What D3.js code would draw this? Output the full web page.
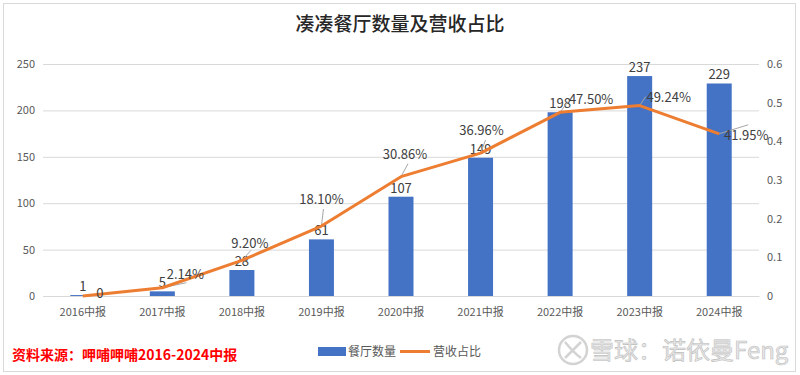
<!DOCTYPE html>
<html><head><meta charset="utf-8">
<script src="https://cdn.jsdelivr.net/npm/d3@7"></script>
<style>body{margin:0;background:#fff}svg{display:block}</style>
</head><body>
<svg id="c" width="800" height="375"></svg>
<script>
const categories = ["2016中报","2017中报","2018中报","2019中报","2020中报","2021中报","2022中报","2023中报","2024中报"];
const restaurantCounts = [1,5,28,61,107,149,198,237,229];
const revenueShare = [0,0.0214,0.092,0.181,0.3086,0.3696,0.475,0.4924,0.4195];
const leftTicks = [0,50,100,150,200,250];
const rightTicks = [0,0.1,0.2,0.3,0.4,0.5,0.6];
// label layout offsets (dx, dy of label center relative to point) and leader endpoints
const lineLabelOffsets = [[17,-3],[23,-14],[8,-17],[0,-27],[4,-23],[1,-23],[31,-13],[29,-9],[27,1]];
const leaderEnds = [null,[24,-5],[9,-10],[2,-17],[7,-13],[5,-13],[8,-11],[6,-9],[29,-9]];

const svg = d3.select("#c");
const font = "'Noto Sans CJK SC', 'Noto Sans', sans-serif";
svg.append("rect").attr("x",3.5).attr("y",3.5).attr("width",792).attr("height",368)
  .attr("fill","#fff").attr("stroke","#d9d9d9");

const xb = d3.scaleBand().domain(categories).range([43,759]);
const xm = d => xb(d) + xb.bandwidth()/2;
const yL = d3.scaleLinear().domain([0,250]).range([296,64]);
const yR = d3.scaleLinear().domain([0,0.6]).range([296,64]);

// gridlines
svg.append("g").selectAll("line").data(leftTicks).join("line")
  .attr("x1",43).attr("x2",759).attr("y1",d=>yL(d)+0.5).attr("y2",d=>yL(d)+0.5)
  .attr("stroke","#d9d9d9").attr("stroke-width",1);

// left axis
const la = svg.append("g").attr("transform","translate(43,0)")
  .call(d3.axisLeft(yL).tickValues(leftTicks).tickSize(0).tickPadding(8));
la.select(".domain").remove();
la.selectAll("text").attr("font-family",font).attr("font-size",11).attr("fill","#595959");

// right axis
const ra = svg.append("g").attr("transform","translate(759,0)")
  .call(d3.axisRight(yR).tickValues(rightTicks).tickSize(0).tickPadding(8).tickFormat(d3.format("")));
ra.select(".domain").remove();
ra.selectAll("text").attr("font-family",font).attr("font-size",11).attr("fill","#595959");

// x axis
const xa = svg.append("g").attr("transform","translate(0,296)")
  .call(d3.axisBottom(xb).tickSize(0).tickPadding(12));
xa.select(".domain").attr("stroke","#d9d9d9");
xa.selectAll("text").attr("font-family",font).attr("font-size",11).attr("fill","#595959");

// bars
const bw = 25;
svg.append("g").selectAll("rect").data(categories).join("rect")
  .attr("x",d=>xm(d)-bw/2).attr("width",bw)
  .attr("y",(d,i)=>yL(restaurantCounts[i]))
  .attr("height",(d,i)=>296-yL(restaurantCounts[i]))
  .attr("fill","#4472C4");

// bar labels
svg.append("g").selectAll("text").data(categories).join("text")
  .attr("x",d=>xm(d)).attr("y",(d,i)=>yL(restaurantCounts[i])-4)
  .attr("text-anchor","middle").attr("font-family",font).attr("font-size",13).attr("fill","#404040")
  .text((d,i)=>restaurantCounts[i]);

// leader lines
svg.append("g").selectAll("line").data(categories.filter((d,i)=>leaderEnds[i])).join("line")
  .each(function(d){
    const i = categories.indexOf(d);
    const px = xm(d), py = yR(revenueShare[i]);
    d3.select(this).attr("x1",px).attr("y1",py).attr("x2",px+leaderEnds[i][0]).attr("y2",py+leaderEnds[i][1]);
  })
  .attr("stroke","#a6a6a6").attr("stroke-width",1);

// line
const line = d3.line().x((d,i)=>xm(categories[i])).y(d=>yR(d));
svg.append("path").datum(revenueShare).attr("d",line)
  .attr("fill","none").attr("stroke","#ED7D31").attr("stroke-width",3).attr("stroke-linejoin","round");

// line labels
const fmt = v => v===0 ? "0" : (v*100).toFixed(2)+"%";
svg.append("g").selectAll("text").data(revenueShare).join("text")
  .attr("x",(d,i)=>xm(categories[i])+lineLabelOffsets[i][0])
  .attr("y",(d,i)=>yR(d)+lineLabelOffsets[i][1]+5)
  .attr("text-anchor","middle").attr("font-family",font).attr("font-size",13).attr("fill","#404040")
  .text(fmt);

// title
svg.append("text").attr("x",400).attr("y",31).attr("text-anchor","middle")
  .attr("font-family","'Noto Sans CJK SC', serif").attr("font-weight",500).attr("font-size",19).attr("fill","#262626")
  .text("凑凑餐厅数量及营收占比");

// source
svg.append("text").attr("x",12).attr("y",360).attr("font-family",font).attr("font-weight","bold")
  .attr("font-size",14).attr("fill","#ff0000").text("资料来源：呷哺呷哺2016-2024中报");

// legend
const lg = svg.append("g");
lg.append("rect").attr("x",318).attr("y",347).attr("width",28).attr("height",9).attr("fill","#4472C4");
lg.append("text").attr("x",348).attr("y",356).attr("font-family",font).attr("font-size",12).attr("fill","#595959").text("餐厅数量");
lg.append("line").attr("x1",400).attr("x2",430).attr("y1",351.5).attr("y2",351.5).attr("stroke","#ED7D31").attr("stroke-width",3);
lg.append("text").attr("x",433).attr("y",356).attr("font-family",font).attr("font-size",12).attr("fill","#595959").text("营收占比");

// watermark
const wm = svg.append("g").attr("opacity",0.9);
wm.append("circle").attr("cx",573).attr("cy",350).attr("r",14).attr("fill","none").attr("stroke","#cfcfcf").attr("stroke-width",2.5);
wm.append("path").attr("d","M565,342 Q573,352 581,358 M581,342 Q573,350 565,358").attr("fill","none").attr("stroke","#cfcfcf").attr("stroke-width",2.5);
wm.append("text").attr("x",590).attr("y",359).attr("font-family",font).attr("font-size",24)
  .attr("fill","#e6e6e6").attr("stroke","#b8b8b8").attr("stroke-width",0.6).text("雪球：诺依曼Feng");
</script>
</body></html>
